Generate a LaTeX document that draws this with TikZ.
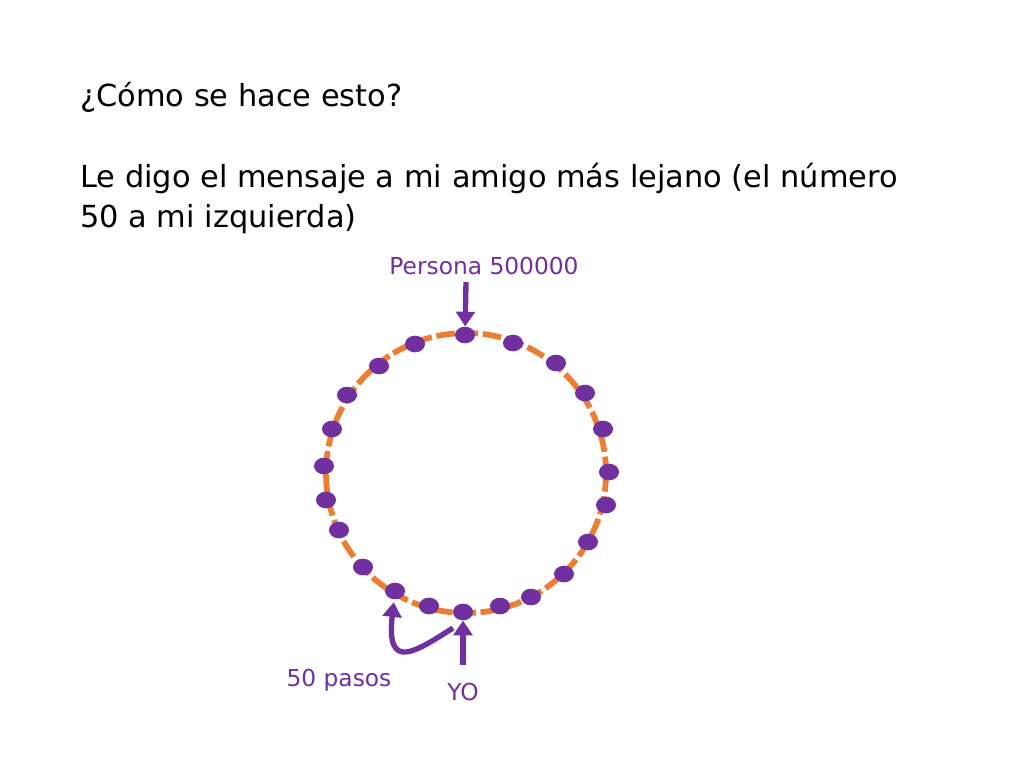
\documentclass[tikz,border=0pt]{standalone}
\usepackage{fontspec}
\setmainfont{DejaVu Sans}
\usetikzlibrary{arrows.meta,shapes.geometric}
\definecolor{ringpurple}{RGB}{112,48,160}
\definecolor{ringorange}{RGB}{237,125,49}
\begin{document}
\begin{tikzpicture}[x=0.75pt,y=-0.75pt,
  dot/.style={ellipse, fill=ringpurple, inner sep=0pt, minimum width=15pt, minimum height=12.5pt},
  ring/.style={draw=ringorange, line width=4.3pt, dash pattern=on 14pt off 3.5pt},
  bigarrow/.style={draw=ringpurple, line width=4pt, -{Triangle[width=14pt,length=11pt]}},
  title/.style={anchor=base west, inner sep=0pt, font=\fontsize{22.8}{28}\selectfont},
  lbl/.style={text=ringpurple, inner sep=0pt, font=\fontsize{17.5}{21}\selectfont}]
\useasboundingbox (0,0) rectangle (1024,768);
\node[title] (t1) at (80,106) {¿Cómo se hace esto?};
\node[title] (t2) at (80,187) {Le digo el mensaje a mi amigo más lejano (el número};
\node[title] (t3) at (80,227) {50 a mi izquierda)};
\path[ring] (466,473) circle[radius=140];
\foreach \n/\x/\y in {0/465/335, 1/513/343, 2/556/363, 3/585/393, 4/603/429, 5/609/472, 6/606/505, 7/588/542, 8/564/574, 9/531/597, 10/500/606, 11/463/612, 12/429/606, 13/395/591, 14/363/567, 15/339/530, 16/326/500, 17/324/466, 18/332/429, 19/347/395, 20/379/366, 21/415/344}
  \node[dot] (d\n) at (\x,\y) {};
\node[lbl] (persona) at (484,266) {Persona 500000};
\node[lbl] (pasos) at (339,680) {50 pasos};
\node[lbl] (yo) at (463,692) {YO};
\coordinate (pstart) at (466,282);
\coordinate (ystart) at (463,665);
\coordinate (cstart) at (453,628);
\draw[bigarrow] (pstart) -- (d0);
\draw[bigarrow] (ystart) -- (d11);
\draw[bigarrow, shorten >=2pt] (cstart) .. controls (415,652) and (386,672) .. (d13);
\end{tikzpicture}
\end{document}
